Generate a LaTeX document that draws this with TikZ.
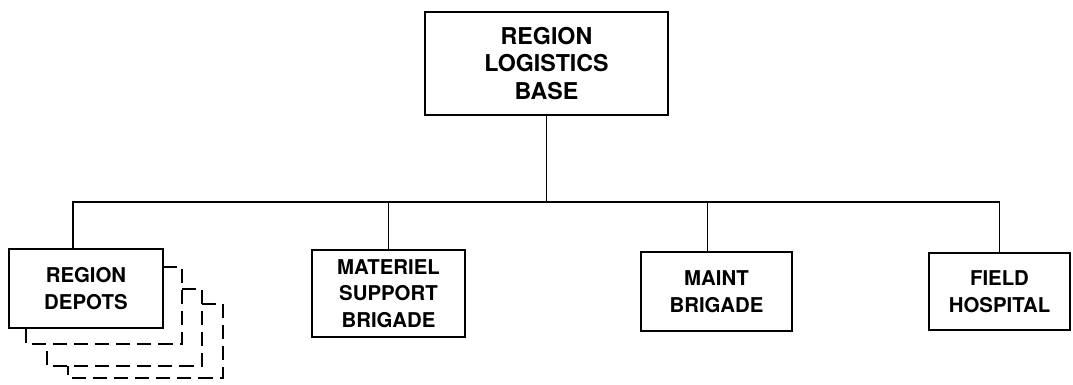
\documentclass[tikz,border=0pt]{standalone}
\usepackage{fontspec}
\setmainfont{TeX Gyre Heros}
\usepackage{tikz}
\usetikzlibrary{arrows.meta,positioning}

\begin{document}
\begin{tikzpicture}[
    x=0.025cm, y=-0.025cm,
    hq/.style={draw=black, fill=white, line width=1.5pt, minimum width=6.075cm, minimum height=2.575cm, inner sep=2pt, align=center, font=\fontsize{16.5}{19.5}\selectfont\bfseries},
    unit/.style={draw=black, fill=white, line width=1.5pt, minimum height=1.975cm, inner sep=2pt, align=center, font=\fontsize{14.5}{18.8}\selectfont\bfseries},
    link/.style={line width=1.3pt},
    shadow/.style={line width=1.5pt, dash pattern=on 10pt off 5pt}
]
\useasboundingbox (0,0) rectangle (1073,384);

% stacked depots behind the front box
\draw[shadow] (163,267) -- (182,267) -- (182,344) -- (26,344) -- (26,328);
\draw[shadow] (182,289) -- (202,289) -- (202,366) -- (47,366) -- (47,344);
\draw[shadow] (202,304) -- (223,304) -- (223,378) -- (68,378) -- (68,366);

\node[hq] (base) at (546.5,63.5) {REGION\\LOGISTICS\\BASE};
\node[unit, minimum width=3.85cm] (depots) at (86,288.5) {REGION\\DEPOTS};
\node[unit, minimum width=3.825cm, minimum height=2.175cm] (materiel) at (388.5,293.5) {MATERIEL\\SUPPORT\\BRIGADE};
\node[unit, minimum width=3.775cm] (maint) at (716.5,291.5) {MAINT\\BRIGADE};
\node[unit, minimum width=3.525cm, minimum height=1.925cm] (field) at (999.5,291.5) {FIELD\\HOSPITAL};

\coordinate (bus) at (0,202);

\draw[link] (base.south) -- (base.south |- bus);
\draw[link] ([xshift=-0.325cm]depots.north) -- ([xshift=-0.325cm]depots.north |- bus) -- (field.north |- bus) -- (field.north);
\draw[link] (materiel.north) -- (materiel.north |- bus);
\draw[link] ([xshift=-0.225cm]maint.north) -- ([xshift=-0.225cm]maint.north |- bus);
\end{tikzpicture}
\end{document}
